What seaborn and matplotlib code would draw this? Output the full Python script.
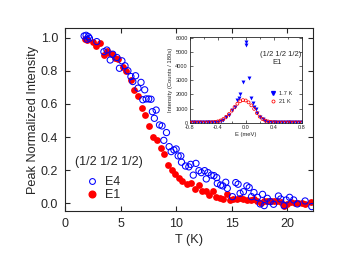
import numpy as np
import pandas as pd
import seaborn as sns
import matplotlib
matplotlib.use("Agg")
import matplotlib.pyplot as plt
from matplotlib.ticker import MultipleLocator
from matplotlib.lines import Line2D

# Данные основного графика: E1 (закрашенные) и E4 (пустые кружки)
t_e1 = [1.8, 2.0, 2.56, 2.8, 3.16, 3.5, 3.8, 4.0, 4.25, 4.5, 4.8, 5.2, 5.45, 5.9, 6.2,
        6.55, 6.9, 7.2, 7.6, 7.9, 8.3, 8.6, 8.9, 9.3, 9.6, 9.9, 10.3, 10.5, 11.0, 11.35,
        11.7, 12.05, 12.35, 12.65, 12.95, 13.3, 13.6, 13.95, 14.25, 14.55, 14.85, 15.15,
        15.45, 15.75, 16.05, 16.4, 16.7, 17.0, 17.3, 17.6, 17.9, 18.2, 18.5, 18.8, 19.1,
        19.4, 19.7, 20.0, 20.3, 20.7, 21.0, 21.3, 21.6, 22.1]
i_e1 = [0.99, 0.985, 0.975, 0.95, 0.97, 0.895, 0.92, 0.91, 0.90, 0.88, 0.87, 0.82, 0.80,
        0.745, 0.685, 0.65, 0.575, 0.535, 0.465, 0.40, 0.385, 0.335, 0.30, 0.23, 0.20,
        0.178, 0.15, 0.137, 0.117, 0.12, 0.087, 0.11, 0.075, 0.077, 0.05, 0.075, 0.04,
        0.03, 0.028, 0.055, 0.02, 0.024, 0.026, 0.034, 0.028, 0.02, 0.02, 0.026, 0.014,
        0.004, 0.012, 0.014, 0.012, 0.012, 0.012, 0.01, -0.016, -0.004, 0.006, 0.0, 0.0,
        0.0, -0.004, 0.006]

t_e4 = [1.72, 1.9, 2.1, 2.0, 2.2, 2.86, 3.5, 3.77, 4.07, 4.3, 4.67, 4.9, 5.12, 5.4, 5.66,
        5.93, 6.1, 6.35, 6.57, 6.84, 7.17, 7.0, 7.3, 7.53, 7.74, 7.86, 8.2, 8.04, 8.5, 8.73,
        8.89, 9.13, 9.37, 9.55, 9.8, 10.0, 10.18, 10.42, 10.48, 10.84, 11.14, 11.3, 11.54,
        11.78, 12.05, 12.26, 12.56, 12.71, 12.86, 13.16, 13.4, 13.65, 13.7, 14.0, 14.2,
        14.46, 14.6, 15.06, 15.36, 15.57, 15.75, 16.05, 16.36, 16.57, 16.78, 17.0, 17.3,
        17.56, 17.77, 17.92, 18.2, 18.46, 18.76, 19.2, 19.4, 19.7, 19.9, 20.2, 20.57,
        20.9, 21.6, 22.2]
i_e4 = [1.01, 1.014, 1.006, 0.99, 0.996, 0.976, 0.915, 0.925, 0.865, 0.90, 0.88, 0.815,
        0.86, 0.83, 0.80, 0.765, 0.735, 0.77, 0.695, 0.73, 0.685, 0.625, 0.63, 0.63, 0.628,
        0.553, 0.563, 0.513, 0.473, 0.467, 0.38, 0.427, 0.342, 0.312, 0.322, 0.328, 0.286,
        0.286, 0.248, 0.225, 0.22, 0.235, 0.17, 0.241, 0.197, 0.185, 0.197, 0.147, 0.185,
        0.17, 0.167, 0.155, 0.12, 0.11, 0.105, 0.127, 0.09, 0.04, 0.125, 0.115, 0.06, 0.07,
        0.105, 0.095, 0.04, 0.065, 0.036, -0.004, 0.054, -0.014, 0.03, 0.01, -0.006, 0.044,
        0.026, -0.014, 0.02, 0.036, 0.02, -0.004, 0.014, -0.02]

# Данные вставки: скан по энергии при 21 K и 1.7 K
e_21k = [-0.80, -0.76, -0.72, -0.68, -0.64, -0.60, -0.56, -0.52, -0.48, -0.44, -0.40,
         -0.36, -0.32, -0.28, -0.24, -0.20, -0.16, -0.12, -0.08, -0.04, 0.00, 0.04, 0.08,
         0.12, 0.16, 0.20, 0.24, 0.28, 0.32, 0.36, 0.40, 0.44, 0.48, 0.52, 0.56, 0.60,
         0.64, 0.68, 0.72, 0.76, 0.80]
i_21k = [15, 20, 15, 18, 22, 15, 20, 25, 33, 53, 91, 156, 260, 411, 612, 852, 1107, 1343,
         1519, 1600, 1573, 1441, 1230, 980, 680, 430, 260, 150, 85, 50, 30, 22, 18, 20, 15,
         20, 18, 15, 20, 18, 15]

e_17k = [-0.80, -0.76, -0.72, -0.68, -0.64, -0.60, -0.56, -0.52, -0.48, -0.44, -0.40,
         -0.36, -0.32, -0.28, -0.24, -0.20, -0.16, -0.12, -0.10, -0.08, -0.04, 0.00, 0.00,
         0.04, 0.08, 0.10, 0.12, 0.14, 0.16, 0.20, 0.24, 0.28, 0.32, 0.36, 0.40, 0.44, 0.48,
         0.52, 0.56, 0.60, 0.64, 0.68, 0.72, 0.76, 0.80]
i_17k = [20, 15, 22, 18, 15, 20, 18, 22, 30, 45, 60, 120, 220, 380, 540, 880, 1130, 1600,
         1720, 2060, 2850, 5720, 5480, 3150, 1760, 1360, 1080, 950, 700, 420, 240, 140, 80,
         45, 30, 22, 18, 20, 15, 18, 22, 15, 20, 18, 15]

blue = "#0000ff"
red = "#ff0000"

sns.set_style("ticks")
plt.rcParams['font.family'] = ['Liberation Sans', 'DejaVu Sans']

fig = plt.figure(figsize=(3.63, 2.54), dpi=100)
ax = fig.add_axes([0.179, 0.169, 0.683, 0.72])

df_e4 = pd.DataFrame({"T": t_e4, "I": i_e4})
df_e1 = pd.DataFrame({"T": t_e1, "I": i_e1})
sns.scatterplot(data=df_e4, x="T", y="I", ax=ax, marker="o", s=20,
                facecolors="none", edgecolor=blue, linewidth=0.75, zorder=3)
sns.scatterplot(data=df_e1, x="T", y="I", ax=ax, marker="o", s=24,
                color=red, edgecolor=red, linewidth=0, zorder=2)

ax.set_xlim(0, 22.3)
ax.set_ylim(-0.047, 1.057)
ax.xaxis.set_major_locator(MultipleLocator(5))
ax.yaxis.set_major_locator(MultipleLocator(0.2))
ax.yaxis.set_major_formatter(matplotlib.ticker.FormatStrFormatter('%.1f'))
ax.tick_params(direction="in", top=True, right=True, length=3.5, width=0.8,
               labelsize=9, pad=5)
for s in ax.spines.values():
    s.set_linewidth(0.8)
ax.set_xlabel("T (K)", fontsize=9.2, labelpad=3)
ax.set_ylabel("Peak Normalized Intensity", fontsize=9.2, labelpad=1)

ax.text(0.04, 0.27, "(1/2 1/2 1/2)", transform=ax.transAxes, fontsize=9,
        va="center", ha="left")
handles = [Line2D([], [], ls="", marker="o", ms=4.2, mfc="none", mec=blue, mew=0.75),
           Line2D([], [], ls="", marker="o", ms=4.8, mfc=red, mec=red)]
ax.legend(handles, ["E4", "E1"], loc="upper left", bbox_to_anchor=(0.06, 0.225),
          frameon=False, fontsize=9, handlelength=1.0, handletextpad=0.5,
          borderpad=0, labelspacing=0.1)

# Вставка
ins = fig.add_axes([0.523, 0.517, 0.308, 0.336])
df_21 = pd.DataFrame({"E": e_21k, "I": i_21k})
df_17 = pd.DataFrame({"E": e_17k, "I": i_17k})
sns.scatterplot(data=df_17, x="E", y="I", ax=ins, marker="v", s=8,
                color=blue, edgecolor=blue, linewidth=0, zorder=2)
sns.scatterplot(data=df_21, x="E", y="I", ax=ins, marker="o", s=4.5,
                facecolors="none", edgecolor=red, linewidth=0.55, zorder=3)
ins.set_xlim(-0.8, 0.8)
ins.set_ylim(0, 6050)
ins.xaxis.set_major_locator(MultipleLocator(0.4))
ins.xaxis.set_minor_locator(MultipleLocator(0.2))
ins.yaxis.set_major_locator(MultipleLocator(1000))
ins.xaxis.set_major_formatter(matplotlib.ticker.FormatStrFormatter('%.1f'))
ins.tick_params(which="both", direction="in", top=True, right=True, labelsize=4,
                pad=1.5, width=0.5)
ins.tick_params(which="major", length=2)
ins.tick_params(which="minor", length=1.2)
for s in ins.spines.values():
    s.set_linewidth(0.6)
ins.set_xlabel("E (meV)", fontsize=4.2, labelpad=1.5)
ins.set_ylabel("Intensity (Counts / 180s)", fontsize=4.2, labelpad=1.5)
ins.text(0.815, 0.795, "(1/2 1/2 1/2)", transform=ins.transAxes, fontsize=5.5,
         ha="center", va="center")
ins.text(0.78, 0.70, "E1", transform=ins.transAxes, fontsize=5.5,
         ha="center", va="center")
ih = [Line2D([], [], ls="", marker="v", ms=2.8, mfc=blue, mec=blue),
      Line2D([], [], ls="", marker="o", ms=2.2, mfc="none", mec=red, mew=0.55)]
ins.legend(ih, ["1.7 K", "21 K"], loc="upper left", bbox_to_anchor=(0.70, 0.40),
           frameon=False, fontsize=4.1, handlelength=0.8, handletextpad=0.6,
           borderpad=0, labelspacing=0.45)

fig.savefig("out.png", dpi=100)
